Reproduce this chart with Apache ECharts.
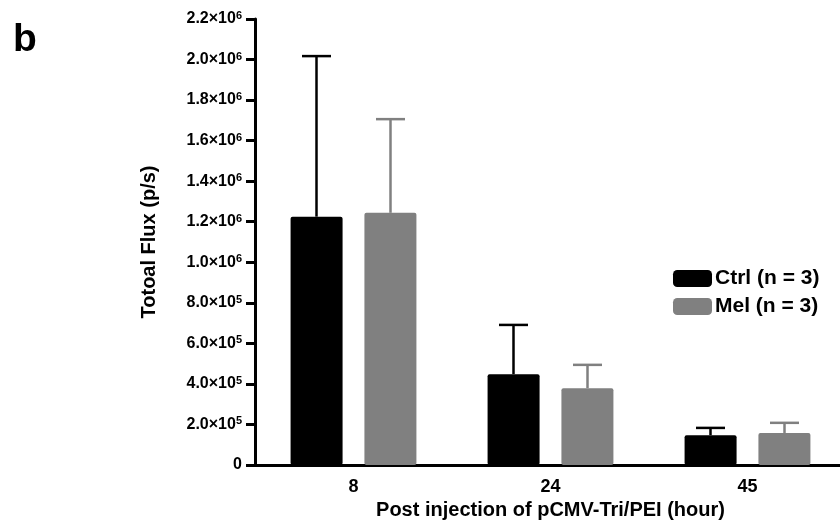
<!DOCTYPE html>
<html>
<head>
<meta charset="utf-8">
<script src="https://cdn.jsdelivr.net/npm/echarts@6/dist/echarts.min.js"></script>
<style>html,body{margin:0;padding:0;background:#fff;}#c{width:840px;height:527px;}</style>
</head>
<body>
<div id="c"></div>
<script>
const categories = ['8', '24', '45'];
const seriesNames = ['Ctrl (n = 3)', 'Mel (n = 3)'];
const ctrlMean = [1225000, 448000, 147000];
const ctrlSD = [792000, 243000, 36000];
const melMean = [1244000, 379000, 158000];
const melSD = [462000, 115000, 50000];
const yTickLabels = ['0', '2.0×10^5', '4.0×10^5', '6.0×10^5', '8.0×10^5', '1.0×10^6',
  '1.2×10^6', '1.4×10^6', '1.6×10^6', '1.8×10^6', '2.0×10^6', '2.2×10^6'];
const colors = ['#000000', '#808080'];

const FONT = '"Liberation Sans", Arial, sans-serif';
const BAR_W = 52;
const BAR_OFFSET = 37;

function errSeries(name, means, sds, color, dir) {
  return {
    type: 'custom',
    name: name + ' err',
    z: 1,
    data: means.map((m, i) => [i, m, m + sds[i]]),
    renderItem: function (params, api) {
      const base = api.coord([api.value(0), api.value(1)]);
      const top = api.coord([api.value(0), api.value(2)]);
      const x = base[0] + dir * BAR_OFFSET;
      const hw = 14.5;
      const style = { stroke: color, lineWidth: 2.5 };
      return {
        type: 'group',
        children: [
          { type: 'line', shape: { x1: x, y1: base[1], x2: x, y2: top[1] }, style: style },
          { type: 'line', shape: { x1: x - hw, y1: top[1], x2: x + hw, y2: top[1] }, style: style }
        ]
      };
    }
  };
}

const chart = echarts.init(document.getElementById('c'), null, { renderer: 'canvas' });
chart.setOption({
  animation: false,
  backgroundColor: '#ffffff',
  textStyle: { fontFamily: FONT },
  title: {
    text: 'b', left: 8, top: 16,
    textStyle: { fontFamily: FONT, fontSize: 39, fontWeight: 'bold', color: '#000' }
  },
  legend: {
    data: seriesNames,
    orient: 'vertical',
    left: 668, top: 263,
    itemWidth: 39, itemHeight: 17, itemGap: 7,
    icon: 'roundRect',
    textStyle: { fontFamily: FONT, fontSize: 21, fontWeight: 'bold', color: '#000', padding: [0, 0, 0, -2] }
  },
  grid: { left: 255, right: -6, top: 19, bottom: 62, containLabel: false, outerBoundsMode: 'none' },
  xAxis: {
    type: 'category',
    data: categories,
    boundaryGap: true,
    name: 'Post injection of pCMV-Tri/PEI (hour)',
    nameLocation: 'middle',
    nameGap: 34,
    nameTextStyle: { fontFamily: FONT, fontSize: 20, fontWeight: 'bold', color: '#000' },
    axisLine: { lineStyle: { color: '#000', width: 3 } },
    axisTick: { alignWithLabel: true, length: 8, lineStyle: { color: '#000', width: 3 } },
    axisLabel: { fontFamily: FONT, fontSize: 18, fontWeight: 'bold', color: '#000', margin: 13 },
    splitLine: { show: false }
  },
  yAxis: {
    type: 'value',
    min: 0, max: 2200000, interval: 200000,
    name: 'Totoal Flux (p/s)',
    nameLocation: 'middle',
    nameGap: 96,
    nameTextStyle: { fontFamily: FONT, fontSize: 20, fontWeight: 'bold', color: '#000' },
    axisLine: { show: true, lineStyle: { color: '#000', width: 3 } },
    axisTick: { show: true, length: 9, lineStyle: { color: '#000', width: 3 } },
    splitLine: { show: false },
    axisLabel: {
      fontFamily: FONT, fontSize: 16, fontWeight: 'bold', color: '#000', margin: 13,
      formatter: function (v) {
        const idx = Math.round(v / 200000);
        const s = yTickLabels[idx] || '';
        const parts = s.split('^');
        return parts.length > 1 ? parts[0] + '{sup|' + parts[1] + '}' : s;
      },
      rich: {
        sup: { fontFamily: FONT, fontSize: 11, fontWeight: 'bold', color: '#000', verticalAlign: 'top', padding: [0, 0, 6, 0] }
      }
    }
  },
  series: [
    {
      name: seriesNames[0], type: 'bar', data: ctrlMean, barWidth: BAR_W, barGap: '42%',
      itemStyle: { color: colors[0], borderRadius: 2 }, z: 2
    },
    {
      name: seriesNames[1], type: 'bar', data: melMean, barWidth: BAR_W, barGap: '42%',
      itemStyle: { color: colors[1], borderRadius: 2 }, z: 2
    },
    errSeries(seriesNames[0], ctrlMean, ctrlSD, colors[0], -1),
    errSeries(seriesNames[1], melMean, melSD, colors[1], 1)
  ]
});
</script>
</body>
</html>
